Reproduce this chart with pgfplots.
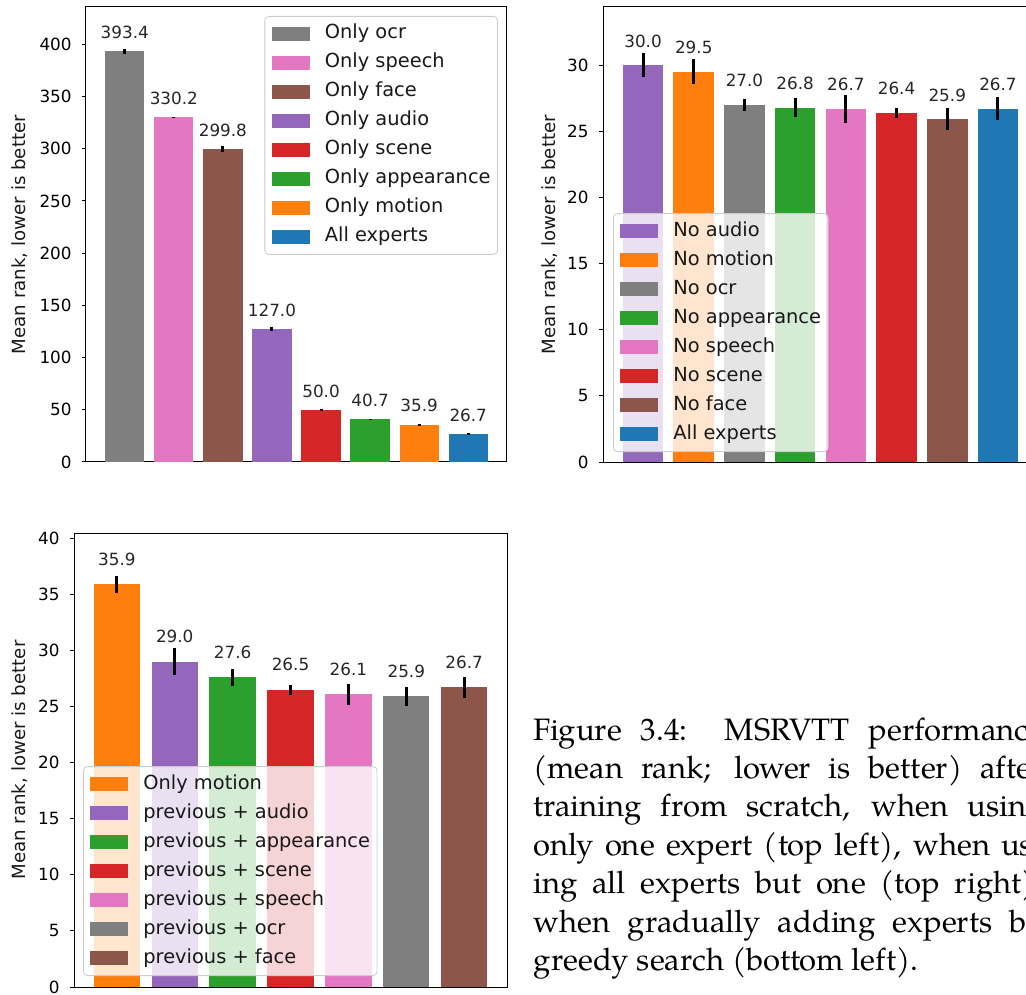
\documentclass[border=0pt]{standalone}
\usepackage{fontspec}
\setmainfont{DejaVu Sans}
\newfontfamily\capfont{TeX Gyre Pagella}
\usepackage{pgfplots}
\pgfplotsset{compat=1.18}

\definecolor{cblue}{HTML}{1F77B4}
\definecolor{corange}{HTML}{FF7F0E}
\definecolor{cgreen}{HTML}{2CA02C}
\definecolor{cred}{HTML}{D62728}
\definecolor{cpurple}{HTML}{9467BD}
\definecolor{cbrown}{HTML}{8C564B}
\definecolor{cpink}{HTML}{E377C2}
\definecolor{cgray}{HTML}{7F7F7F}

\pgfplotsset{
  common/.style={
    scale only axis, anchor=north west,
    ybar, bar width=0.8, bar shift=0pt,
    xmin=-0.79, xmax=7.79, ymin=0,
    xtick=\empty, ytick pos=left,
    tick align=outside, major tick length=2pt,
    tick style={black, line width=0.5pt},
    axis line style={black, line width=0.5pt},
    yticklabel style={font=\fontsize{8.4}{9}\selectfont, inner sep=0pt, xshift=-5pt},
    /pgf/number format/assume math mode=true,
    ylabel={Mean rank, lower is better},
    error bars/y dir=both, error bars/y explicit, error bars/error mark=none,
    error bars/error bar style={draw=black, line width=1.5pt},
    nodes near coords={\pgfmathprintnumber[fixed,fixed zerofill,precision=1]{\pgfplotspointmeta}},
    nodes near coords style={anchor=base, inner sep=0pt, font=\fontsize{8.4}{9}\selectfont, text=black!85},
    every axis plot post/.append style={draw=none,
      legend image code/.code={\fill[##1, fill opacity=1, draw=none, sharp corners] (0pt,-3.6pt) rectangle (19pt,3.6pt);}},
    legend cell align=left,
    legend style={font=\fontsize{9.7}{10}\selectfont, text=black!90,
      draw=black!20, rounded corners=2pt, fill=white, fill opacity=0.8, draw opacity=1, text opacity=1,
      inner xsep=3.5pt, inner ysep=4pt, row sep=5pt, column sep=7.5pt,
      nodes={inner sep=0pt, text height=7.3pt, text depth=2.2pt}},
  },
  ylab/.style={every axis y label/.style={at={(axis description cs:#1,0.5)}, anchor=center, rotate=90, font=\fontsize{9.1}{10}\selectfont, text=black!90}},
}

\begin{document}
\begin{tikzpicture}
\path[use as bounding box, clip] (0,0) rectangle (513pt,-497pt);

% top left
\begin{axis}[common, at={(43pt,-3.5pt)}, width=210.5pt, height=227.5pt,
  ymax=435.7, ytick={0,50,...,400}, ylab=-0.157,
  nodes near coords style={yshift=6.3pt},
  legend style={at={(1,1)}, anchor=north east, xshift=-4.5pt, yshift=-4.5pt}]
\addplot[fill=cgray] coordinates {(0,393.4) +- (0,2.5)};
\addplot[fill=cpink] coordinates {(1,330.2) +- (0,0.4)};
\addplot[fill=cbrown] coordinates {(2,299.8) +- (0,2.5)};
\addplot[fill=cpurple] coordinates {(3,127.0) +- (0,2.0)};
\addplot[fill=cred] coordinates {(4,50.0) +- (0,0.8)};
\addplot[fill=cgreen] coordinates {(5,40.7) +- (0,0.5)};
\addplot[fill=corange] coordinates {(6,35.9) +- (0,0.8)};
\addplot[fill=cblue] coordinates {(7,26.7) +- (0,1.0)};
\legend{Only ocr, Only speech, Only face, Only audio, Only scene, Only appearance, Only motion, All experts}
\end{axis}

% top right
\begin{axis}[common, at={(301.5pt,-3.5pt)}, width=217.5pt, height=227.5pt,
  ymax=34.4, ytick={0,5,...,30}, ylab=-0.122,
  nodes near coords style={yshift=9pt},
  legend style={at={(0,0)}, anchor=south west, xshift=5pt, yshift=5pt}]
\addplot[fill=cpurple] coordinates {(0,30.0) +- (0,0.93)};
\addplot[fill=corange] coordinates {(1,29.5) +- (0,0.95)};
\addplot[fill=cgray] coordinates {(2,27.0) +- (0,0.45)};
\addplot[fill=cgreen] coordinates {(3,26.8) +- (0,0.75)};
\addplot[fill=cpink] coordinates {(4,26.7) +- (0,1.06)};
\addplot[fill=cred] coordinates {(5,26.4) +- (0,0.38)};
\addplot[fill=cbrown] coordinates {(6,25.9) +- (0,0.83)};
\addplot[fill=cblue] coordinates {(7,26.7) +- (0,0.87)};
\legend{No audio, No motion, No ocr, No appearance, No speech, No scene, No face, All experts}
\end{axis}

% bottom left
\begin{axis}[common, at={(37pt,-266.5pt)}, width=216.5pt, height=227pt,
  xmin=-0.74, xmax=6.74,
  ymax=40.47, ytick={0,5,...,40}, ylab=-0.125,
  nodes near coords style={yshift=9.6pt},
  legend style={at={(0,0)}, anchor=south west, xshift=4.5pt, yshift=5.5pt}]
\addplot[fill=corange] coordinates {(0,35.9) +- (0,0.77)};
\addplot[fill=cpurple] coordinates {(1,29.0) +- (0,1.23)};
\addplot[fill=cgreen] coordinates {(2,27.6) +- (0,0.79)};
\addplot[fill=cred] coordinates {(3,26.5) +- (0,0.45)};
\addplot[fill=cpink] coordinates {(4,26.1) +- (0,0.93)};
\addplot[fill=cgray] coordinates {(5,25.9) +- (0,0.85)};
\addplot[fill=cbrown] coordinates {(6,26.7) +- (0,0.92)};
\legend{Only motion, previous + audio, previous + appearance, previous + scene, previous + speech, previous + ocr, previous + face}
\end{axis}

\node[anchor=base west, inner sep=0pt] at (266.5pt,-370pt) {\parbox[t]{255pt}{\capfont\fontsize{15.5}{19.2}\selectfont
Figure 3.4:\ \ MSRVTT performance\linebreak
(mean rank; lower is better) after\linebreak
training from scratch, when using\linebreak
only one expert (top left), when us-\linebreak
ing all experts but one (top right),\linebreak
when gradually adding experts by\linebreak
greedy search (bottom left).}};
\end{tikzpicture}
\end{document}
